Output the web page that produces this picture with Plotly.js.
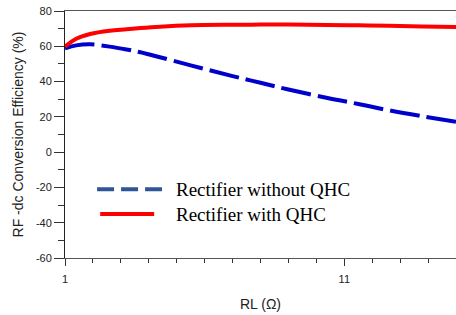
<!DOCTYPE html>
<html>
<head>
<meta charset="utf-8">
<script src="https://cdn.plot.ly/plotly-3.0.1.min.js"></script>
<style>html,body{margin:0;padding:0;background:#fff;}#chart{width:456px;height:315px;}</style>
</head>
<body>
<div id="chart"></div>
<script>
// Load resistance RL (Ω)
var rl = [1, 1.4, 1.9, 2.6, 3.2, 3.7, 4.4, 5.5, 7, 8, 9, 10.4, 11.5, 12.6, 13.8, 15];
// RF-dc conversion efficiency (%)
var effWithoutQHC = [58.8, 60.5, 61.1, 59.8, 58.2, 56.6, 53.8, 49.2, 43.1, 39.3, 35.5, 30.7, 27.3, 23.7, 20.3, 17.2];
var effWithQHC    = [59.8, 64.3, 67.0, 68.8, 69.6, 70.3, 71.1, 71.9, 72.2, 72.3, 72.3, 72.1, 71.9, 71.6, 71.2, 70.9];
var seriesNames = ['Rectifier without QHC', 'Rectifier with QHC'];
var xTickVals = [1, 11];
var yTickVals = [-60, -40, -20, 0, 20, 40, 60, 80];

var traces = [
  {x: rl, y: effWithoutQHC, name: seriesNames[0], mode: 'lines',
   line: {color: '#0000cc', width: 4, dash: '30px,7px', shape: 'spline'}},
  {x: rl, y: effWithQHC, name: seriesNames[1], mode: 'lines',
   line: {color: '#ff0000', width: 4, shape: 'spline'}}
];

var legX0 = 0.082, legX1 = 0.248, legTextX = 0.28;
var legY = [0.278, 0.178];

var layout = {
  width: 456, height: 315,
  margin: {l: 65, r: 0, t: 11, b: 57},
  paper_bgcolor: '#fff', plot_bgcolor: '#fff',
  showlegend: false,
  font: {family: 'Arial, Liberation Sans, sans-serif', size: 11, color: '#222'},
  xaxis: {
    range: [1, 15], tickvals: xTickVals, ticktext: xTickVals.map(String),
    ticks: 'outside', ticklen: 7, tickcolor: '#333', tickwidth: 1,
    ticklabelstandoff: 4,
    minor: {dtick: 1, tick0: 1, ticks: 'outside', ticklen: 4, tickcolor: '#333'},
    showline: true, linecolor: '#555', linewidth: 1, mirror: true,
    showgrid: false, zeroline: false,
    title: {text: 'RL (Ω)', font: {size: 14, color: '#222'}, standoff: 14}
  },
  yaxis: {
    range: [-60, 80], tickvals: yTickVals, ticktext: yTickVals.map(String),
    ticks: 'outside', ticklen: 10, tickcolor: '#333', tickwidth: 1,
    minor: {dtick: 10, tick0: 0, ticks: 'outside', ticklen: 6, tickcolor: '#333'},
    showline: true, linecolor: '#222', linewidth: 1,
    showgrid: false, zeroline: false,
    title: {text: 'RF -dc Conversion Efficiency (%)', font: {size: 14, color: '#222'}, standoff: 8}
  },
  shapes: [
    {type: 'line', xref: 'paper', yref: 'paper', x0: legX0, x1: legX1, y0: legY[0], y1: legY[0],
     line: {color: '#2F5597', width: 4, dash: '17px,7px'}},
    {type: 'line', xref: 'paper', yref: 'paper', x0: legX0 + 0.008, x1: legX1 - 0.02, y0: legY[1], y1: legY[1],
     line: {color: '#ff0000', width: 4}}
  ],
  annotations: seriesNames.map(function (n, i) {
    return {xref: 'paper', yref: 'paper', x: legTextX, y: legY[i], xanchor: 'left', yanchor: 'middle',
      text: n, showarrow: false,
      font: {family: 'Liberation Serif, Times New Roman, serif', size: 19, color: '#000'}};
  })
};

Plotly.newPlot('chart', traces, layout, {displayModeBar: false, staticPlot: true});
</script>
</body>
</html>
